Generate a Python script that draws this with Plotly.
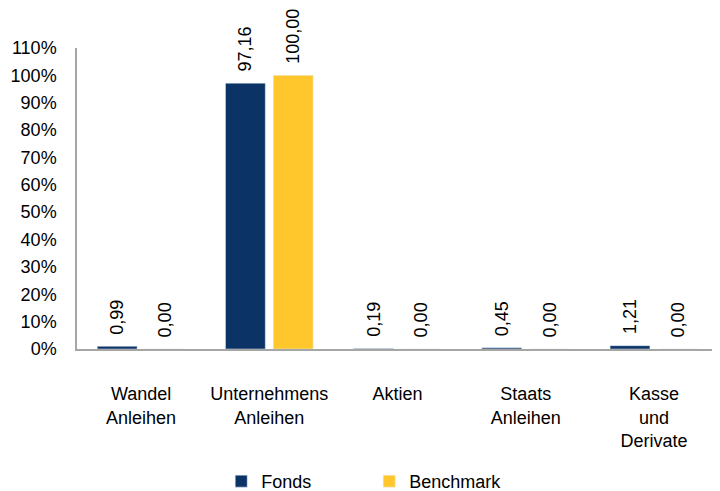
import plotly.graph_objects as go

categories = ["Wandel<br>Anleihen", "Unternehmens<br>Anleihen", "Aktien", "Staats<br>Anleihen", "Kasse<br>und<br>Derivate"]
fonds = [0.99, 97.16, 0.19, 0.45, 1.21]
benchmark = [0.00, 100.00, 0.00, 0.00, 0.00]
y_ticks = list(range(0, 111, 10))

PAD = "\u00a0\u2009"

def fmt(v):
    return PAD + f"{v:.2f}".replace(".", ",")

FONT = "Liberation Sans, Arial, sans-serif"
fig = go.Figure()
fig.add_trace(go.Bar(
    name="Fonds", x=categories, y=fonds, marker_color="#0B3366",
    text=[fmt(v) for v in fonds], textposition="outside", textangle=-90,
    textfont=dict(size=18, color="#000000", family=FONT), cliponaxis=False,
))
fig.add_trace(go.Bar(
    name="Benchmark", x=categories, y=benchmark, marker_color="#FFC72C",
    text=[fmt(v) for v in benchmark], textposition="outside", textangle=-90,
    textfont=dict(size=18, color="#000000", family=FONT), cliponaxis=False,
))
fig.update_layout(
    width=712, height=483,
    margin=dict(l=69, r=2, t=40, b=142, autoexpand=False),
    paper_bgcolor="white", plot_bgcolor="white",
    font=dict(family=FONT, size=18, color="#000000"),
    barmode="group", bargap=0.254, bargroupgap=0.167,
    showlegend=True,
    legend=dict(orientation="h", x=0.225, y=-0.44, xanchor="left", yanchor="middle",
                font=dict(size=18), entrywidth=103, itemwidth=30, traceorder="normal"),
    uniformtext=dict(minsize=18, mode="show"),
)
fig.update_yaxes(
    range=[0, 110], tickvals=y_ticks, ticktext=[f"{v}%" for v in y_ticks],
    showgrid=False, zeroline=False, showline=True, linecolor="#A6A6A6", linewidth=1.5,
    ticks="", ticklabelstandoff=15, automargin=False,
)
fig.update_xaxes(
    showgrid=False, showline=True, linecolor="#A6A6A6", linewidth=1.5,
    ticks="", ticklabelstandoff=28, tickangle=0, automargin=False,
)
fig.write_html("out.html")
